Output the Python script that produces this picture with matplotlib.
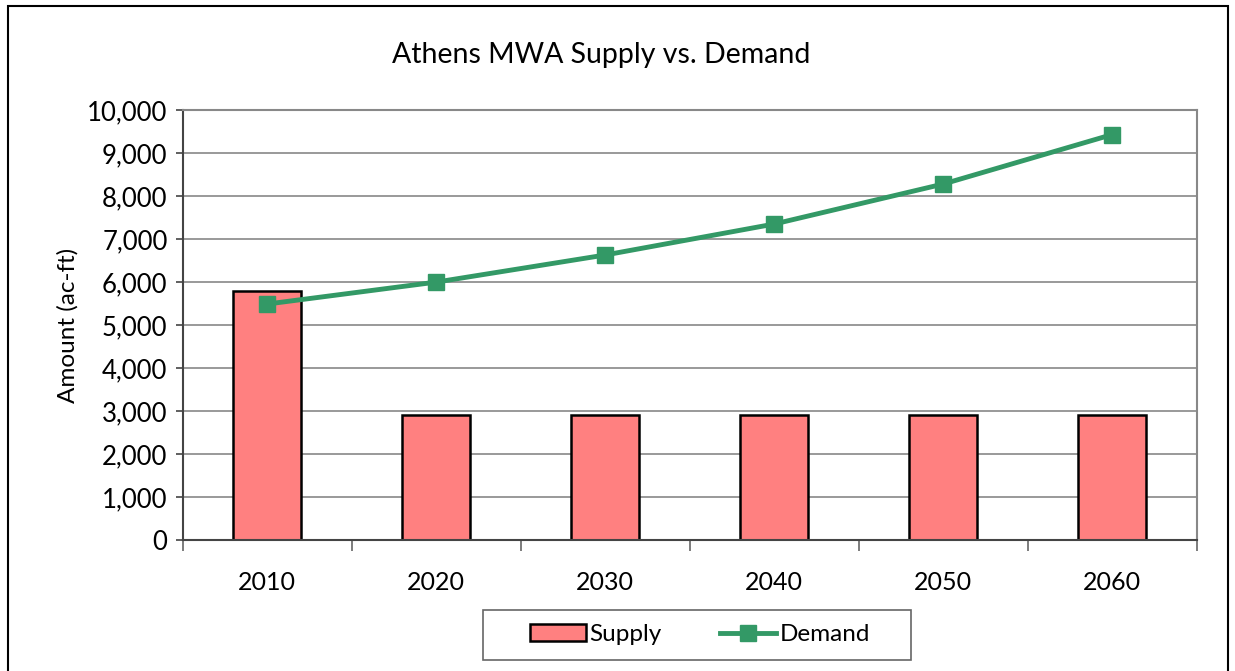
import matplotlib
matplotlib.use('Agg')
import matplotlib.pyplot as plt
from matplotlib.patches import Rectangle
from matplotlib.ticker import FuncFormatter, FixedLocator
import numpy as np

plt.rcParams['font.family'] = ['Lato', 'DejaVu Sans']

# Data
years = ['2010', '2020', '2030', '2040', '2050', '2060']
supply = [5790, 2900, 2900, 2900, 2900, 2900]
demand = [5490, 6000, 6630, 7350, 8280, 9430]

fig = plt.figure(figsize=(12.35, 6.71), dpi=100)
ax = fig.add_axes([0.148, 0.195, 0.821, 0.641])

# outer chart border
fig.patches.append(Rectangle((0.0065, -0.05), 0.988, 1.041, transform=fig.transFigure,
                             fill=False, edgecolor='black', linewidth=1.5))

x = np.arange(len(years))
bars = ax.bar(x, supply, width=0.4, color='#FF8080', edgecolor='black', linewidth=1.8,
              label='Supply', zorder=2)
line, = ax.plot(x, demand, color='#339966', linewidth=3.5, marker='s', markersize=12,
                label='Demand', zorder=3)

ax.set_xlim(-0.5, len(years) - 0.5)
ax.set_ylim(0, 10000)
ax.set_yticks(np.arange(0, 10001, 1000))
ax.yaxis.set_major_formatter(FuncFormatter(lambda v, p: f'{int(v):,}'))
ax.yaxis.grid(True, color='#888888', linewidth=1.2, zorder=0)
ax.set_axisbelow(True)

# categories labelled in the middle, ticks between them
ax.set_xticks(x)
ax.set_xticklabels(years)
ax.tick_params(axis='x', which='major', length=0, pad=22, labelsize=18)
ax.xaxis.set_minor_locator(FixedLocator(np.arange(-0.5, len(years), 1.0)))
ax.tick_params(axis='x', which='minor', length=8, width=1.2, color='#666666')
ax.tick_params(axis='y', length=5, width=1.2, color='#444444', labelsize=18.5, pad=6)

for s in ['top', 'right']:
    ax.spines[s].set_color('#888888')
    ax.spines[s].set_linewidth(1.5)
ax.spines['left'].set_color('#444444')
ax.spines['left'].set_linewidth(1.5)
ax.spines['bottom'].set_color('#444444')
ax.spines['bottom'].set_linewidth(1.5)

ax.set_ylabel('Amount (ac-ft)', fontsize=17.5, labelpad=6)
fig.text(0.487, 0.918, 'Athens MWA Supply vs. Demand', fontsize=20.5, ha='center', va='center')

# legend box drawn separately so it can be wider than the entries
fig.patches.append(Rectangle((0.391, 0.0164), 0.3466, 0.0745, transform=fig.transFigure,
                             fill=False, edgecolor='#666666', linewidth=1.2))
leg = fig.legend([bars, line], ['Supply', 'Demand'], loc='center',
                 bbox_to_anchor=(0.5668, 0.0537), ncol=2, fontsize=17.5,
                 frameon=False, handlelength=2.3, columnspacing=2.4, handletextpad=0.15,
                 borderaxespad=0)

fig.savefig('out.png', dpi=100)
